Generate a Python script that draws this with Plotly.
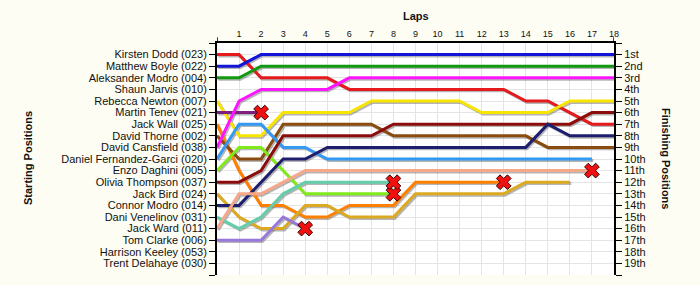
import plotly.graph_objects as go

# ---------------- data ----------------
laps = list(range(0, 19))
start_names = [
    "Kirsten Dodd (023)", "Matthew Boyle (022)", "Aleksander Modro (004)",
    "Shaun Jarvis (010)", "Rebecca Newton (007)", "Martin Tenev (021)",
    "Jack Wall (025)", "David Thorne (002)", "David Cansfield (038)",
    "Daniel Fernandez-Garci (020)", "Enzo Daghini (005)", "Olivia Thompson (037)",
    "Jack Bird (024)", "Connor Modro (014)", "Dani Venelinov (031)",
    "Jack Ward (011)", "Tom Clarke (006)", "Harrison Keeley (053)",
    "Trent Delahaye (030)",
]
finish_labels = ["1st", "2nd", "3rd", "4th", "5th", "6th", "7th", "8th", "9th", "10th",
                 "11th", "12th", "13th", "14th", "15th", "16th", "17th", "18th", "19th"]

pos_dodd = [1, 1, 3, 3, 3, 3, 4, 4, 4, 4, 4, 4, 4, 4, 5, 5, 6, 7, 7]
pos_boyle = [2, 2, 1, 1, 1, 1, 1, 1, 1, 1, 1, 1, 1, 1, 1, 1, 1, 1, 1]
pos_amodro = [3, 3, 2, 2, 2, 2, 2, 2, 2, 2, 2, 2, 2, 2, 2, 2, 2, 2, 2]
pos_newton = [5, 8, 8, 6, 6, 6, 6, 5, 5, 5, 5, 5, 6, 6, 6, 6, 5, 5, 5]
pos_tenev = [6, 6, 6]
pos_wall = [7, 11, 14, 14, 15, 15, 14, 14, 14, 12, 12, 12, 12, 12]
pos_thorne = [8, 10, 10, 7, 7, 7, 7, 7, 8, 8, 8, 8, 8, 8, 8, 9, 9, 9, 9]
pos_cansfield = [9, 5, 4, 4, 4, 4, 3, 3, 3, 3, 3, 3, 3, 3, 3, 3, 3, 3, 3]
pos_fernandez = [10, 7, 7, 9, 9, 10, 10, 10, 10, 10, 10, 10, 10, 10, 10, 10, 10, 10]
pos_daghini = [11, 9, 9, 11, 13, 13, 13, 13, 13]
pos_thompson = [12, 12, 11, 8, 8, 8, 8, 8, 7, 7, 7, 7, 7, 7, 7, 7, 7, 6, 6]
pos_bird = [13, 15, 16, 16, 14, 14, 15, 15, 15, 13, 13, 13, 13, 13, 12, 12, 12]
pos_cmodro = [14, 14, 12, 10, 10, 9, 9, 9, 9, 9, 9, 9, 9, 9, 9, 7, 8, 8, 8]
pos_venelinov = [15, 16, 15, 13, 12, 12, 12, 12, 12]
pos_ward = [16, 13, 13, 12, 11, 11, 11, 11, 11, 11, 11, 11, 11, 11, 11, 11, 11, 11]
pos_clarke = [17, 17, 17, 15, 16]

series = [
    (pos_dodd, "#E41A1C", False),
    (pos_boyle, "#1414D8", False),
    (pos_amodro, "#119A11", False),
    (pos_newton, "#F8E400", False),
    (pos_tenev, "#7E1E7E", True),
    (pos_wall, "#FF8000", True),
    (pos_thorne, "#8A4B0E", False),
    (pos_cansfield, "#FF14FF", False),
    (pos_fernandez, "#3399F2", False),
    (pos_daghini, "#80EA1A", True),
    (pos_thompson, "#8C0C0C", False),
    (pos_bird, "#DCAA22", False),
    (pos_cmodro, "#1E1E6E", False),
    (pos_venelinov, "#66CDAA", True),
    (pos_ward, "#F8A88A", True),
    (pos_clarke, "#9878DA", True),
]

# ---------------- figure ----------------
fig = go.Figure()
sdx, sdy = 0.06, 0.12
for ys, col, ret in series:
    xs = laps[:len(ys)]
    fig.add_trace(go.Scatter(x=[v + sdx for v in xs], y=[v + sdy for v in ys], mode="lines",
                             line=dict(color="rgba(90,90,90,0.45)", width=3),
                             hoverinfo="skip", showlegend=False))
for ys, col, ret in series:
    xs = laps[:len(ys)]
    fig.add_trace(go.Scatter(x=xs, y=ys, mode="lines", line=dict(color=col, width=3),
                             showlegend=False))
for ys, col, ret in series:
    if ret:
        fig.add_trace(go.Scatter(x=[laps[len(ys) - 1]], y=[ys[-1]], mode="markers",
                                 marker=dict(symbol="x", size=13, color="#F01010",
                                             line=dict(color="#3A0000", width=1)),
                                 showlegend=False))

font_fam = "Liberation Sans, Arial, sans-serif"
fig.update_layout(
    width=700, height=285,
    margin=dict(l=217, r=86, t=43, b=10),
    paper_bgcolor="#FDFDF3",
    plot_bgcolor="#FFFFFF",
    font=dict(family=font_fam, size=11, color="#111111"),
    xaxis=dict(range=[0, 18], side="top", tickvals=list(range(1, 19)),
               ticks="", tickfont=dict(size=9), showline=True, linecolor="black",
               linewidth=2, showgrid=True, gridcolor="#E4E4E4", gridwidth=1,
               zeroline=False, fixedrange=True),
    yaxis=dict(range=[20, 0], tickvals=list(range(0, 21)),
               ticktext=[""] + start_names + [""], ticks="outside", ticklen=6,
               tickcolor="black", tickwidth=1, showline=True, linecolor="black",
               linewidth=2, showgrid=True, gridcolor="#E4E4E4", gridwidth=1,
               zeroline=False, tickfont=dict(size=11)),
    yaxis2=dict(range=[20, 0], overlaying="y", side="right", tickvals=list(range(0, 21)),
                ticktext=[""] + finish_labels + [""], ticks="outside", ticklen=6,
                tickcolor="black", tickwidth=1, showline=True, linecolor="black",
                linewidth=2, showgrid=False, zeroline=False, tickfont=dict(size=11)),
    showlegend=False,
)
# dummy trace to show yaxis2
fig.add_trace(go.Scatter(x=[None], y=[None], yaxis="y2", showlegend=False))

# small ticks at both ends of the top axis
for xv in (0, 18):
    fig.add_shape(type="line", xref="x", yref="paper", x0=xv, x1=xv, y0=1, y1=1.025,
                  line=dict(color="black", width=1.5))

fig.add_annotation(text="<b>Laps</b>", xref="paper", yref="paper", x=0.5, y=1.116,
                   showarrow=False, font=dict(size=11, color="#111111"), yanchor="middle")
fig.add_annotation(text="<b>Starting Positions</b>", xref="paper", yref="paper",
                   x=(28 - 217) / 397, y=(275 - 158) / 232, textangle=-90,
                   showarrow=False, font=dict(size=11, color="#111111"),
                   xanchor="center", yanchor="middle")
fig.add_annotation(text="<b>Finishing Positions</b>", xref="paper", yref="paper",
                   x=(666 - 217) / 397, y=(275 - 158) / 232, textangle=90,
                   showarrow=False, font=dict(size=11, color="#111111"),
                   xanchor="center", yanchor="middle")

fig.write_html("out.html")
